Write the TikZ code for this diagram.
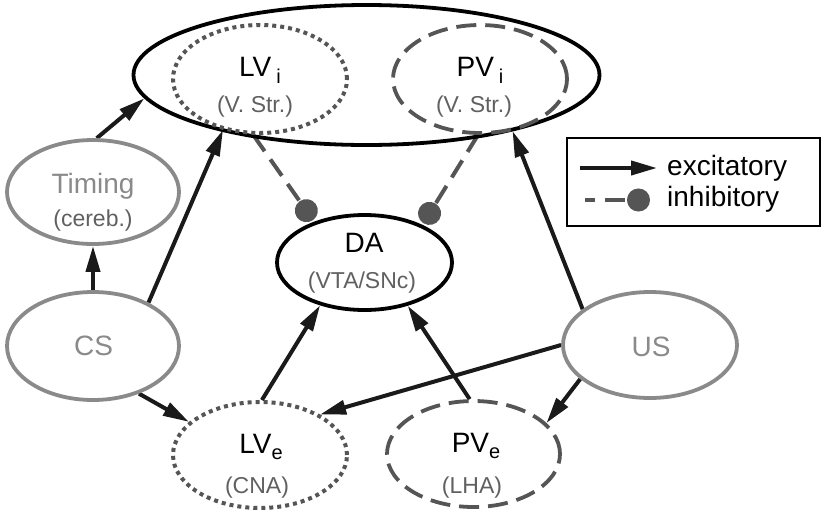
\documentclass[tikz,border=0pt]{standalone}
\usepackage{fontspec}
\setmainfont{Liberation Sans}
\usetikzlibrary{shapes.geometric,arrows.meta}
\pgfdeclarelayer{bg}
\pgfsetlayers{bg,main}
\definecolor{lgray}{HTML}{8A8A8A}
\definecolor{dgray}{HTML}{555555}
\definecolor{tgray}{HTML}{606060}
\definecolor{ink}{HTML}{1A1A1A}
\newcommand\lowsub[2]{\raisebox{-#1}{\fontsize{20}{20}\selectfont #2}}
\begin{document}
\begin{tikzpicture}[x=1pt,y=-1pt,
  ell/.style={ellipse, inner sep=0pt, line width=3.8pt},
  blackell/.style={ell, draw=black},
  grayell/.style={ell, draw=lgray},
  dotell/.style={ell, draw=dgray, line width=4pt, dash pattern=on 4pt off 4pt},
  dashell/.style={ell, draw=dgray, line width=3.8pt, dash pattern=on 20pt off 9pt},
  mainlab/.style={anchor=base, inner sep=0pt, font=\fontsize{28}{28}\selectfont},
  sublab/.style={anchor=base, inner sep=0pt, font=\fontsize{23}{23}\selectfont, text=tgray},
  exc/.style={draw=ink, line width=4pt, -{Triangle[length=26pt,width=14pt]}},
  inh/.style={draw=dgray, line width=4pt, dash pattern=on 20pt off 10pt, -{Circle[length=23pt]}},
]
\useasboundingbox (0,0) rectangle (827,512);
% ellipses
\node[blackell, minimum width=466pt, minimum height=140pt] (vs) at (366.5,75) {};
\node[dotell, minimum width=174pt, minimum height=108pt] (lvi) at (260,79) {};
\node[dashell, minimum width=174pt, minimum height=108pt] (pvi) at (480,79) {};
\node[grayell, minimum width=172pt, minimum height=104pt] (tim) at (93,192) {};
\node[grayell, minimum width=172pt, minimum height=108pt] (cs) at (93,346) {};
\node[grayell, minimum width=174pt, minimum height=106pt] (us) at (650,345) {};
\node[blackell, minimum width=175pt, minimum height=95pt] (da) at (364.5,262.5) {};
\node[dotell, minimum width=174pt, minimum height=106pt] (lve) at (260,455) {};
\node[dashell, minimum width=173pt, minimum height=106pt] (pve) at (473.5,454) {};
% labels
\node[mainlab] (lvit) at (260,76) {LV\hspace{5pt}\lowsub{7pt}{i}};
\node[sublab] (lvis) at (255,112) {(V. Str.)};
\node[mainlab] (pvit) at (480,76) {PV\hspace{5pt}\lowsub{7pt}{i}};
\node[sublab] (pvis) at (474,112) {(V. Str.)};
\node[mainlab, text=lgray] (timt) at (93,193) {Timing};
\node[sublab] (tims) at (93,226) {(cereb.)};
\node[mainlab, text=lgray] (cst) at (93.5,355) {CS};
\node[mainlab, text=lgray] (ust) at (651,356) {US};
\node[mainlab] (dat) at (364,252) {DA};
\node[sublab] (das) at (362,288) {(VTA/SNc)};
\node[mainlab] (lvet) at (261,453) {LV\lowsub{6pt}{e}};
\node[sublab] (lves) at (257,493) {(CNA)};
\node[mainlab] (pvet) at (476,452) {PV\lowsub{6pt}{e}};
\node[sublab] (pves) at (472,493) {(LHA)};
% legend
\node[draw=black, line width=2pt, minimum width=253pt, minimum height=88pt, inner sep=0pt] (leg) at (693.5,182) {};
\coordinate (e1) at (580,168);
\coordinate (e2) at (657,168);
\draw[exc] (e1) -- (e2);
\node[anchor=base west, inner sep=0pt, font=\fontsize{28}{28}\selectfont] (ext) at (667,175) {excitatory};
\coordinate (i1) at (585,200);
\coordinate (i2) at (650,200);
\draw[inh, dash phase=10pt] (i1) -- (i2);
\node[anchor=base west, inner sep=0pt, font=\fontsize{28}{28}\selectfont] (inht) at (667,206) {inhibitory};
% connectors
\begin{pgfonlayer}{bg}
\draw[exc] (tim.86) -- (vs.186);
\draw[exc] (cs.north) -- (tim.south);
\draw[exc] (cs.38) -- (lvi.234);
\draw[exc] (us.152) -- (pvi.302);
\draw[exc] (us.west) -- (lve.34);
\draw[exc] (us.206) -- (pve.23);
\draw[exc] (cs.314) -- (lve.155);
\draw[exc] (lve.88) -- (da.224);
\draw[exc] (pve.94) -- (da.315);
\draw[inh, shorten >=2pt] (lvi.263) -- (da.141);
\draw[inh, shorten >=2pt] (pvi.268) -- (da.33);
\end{pgfonlayer}
\end{tikzpicture}
\end{document}
